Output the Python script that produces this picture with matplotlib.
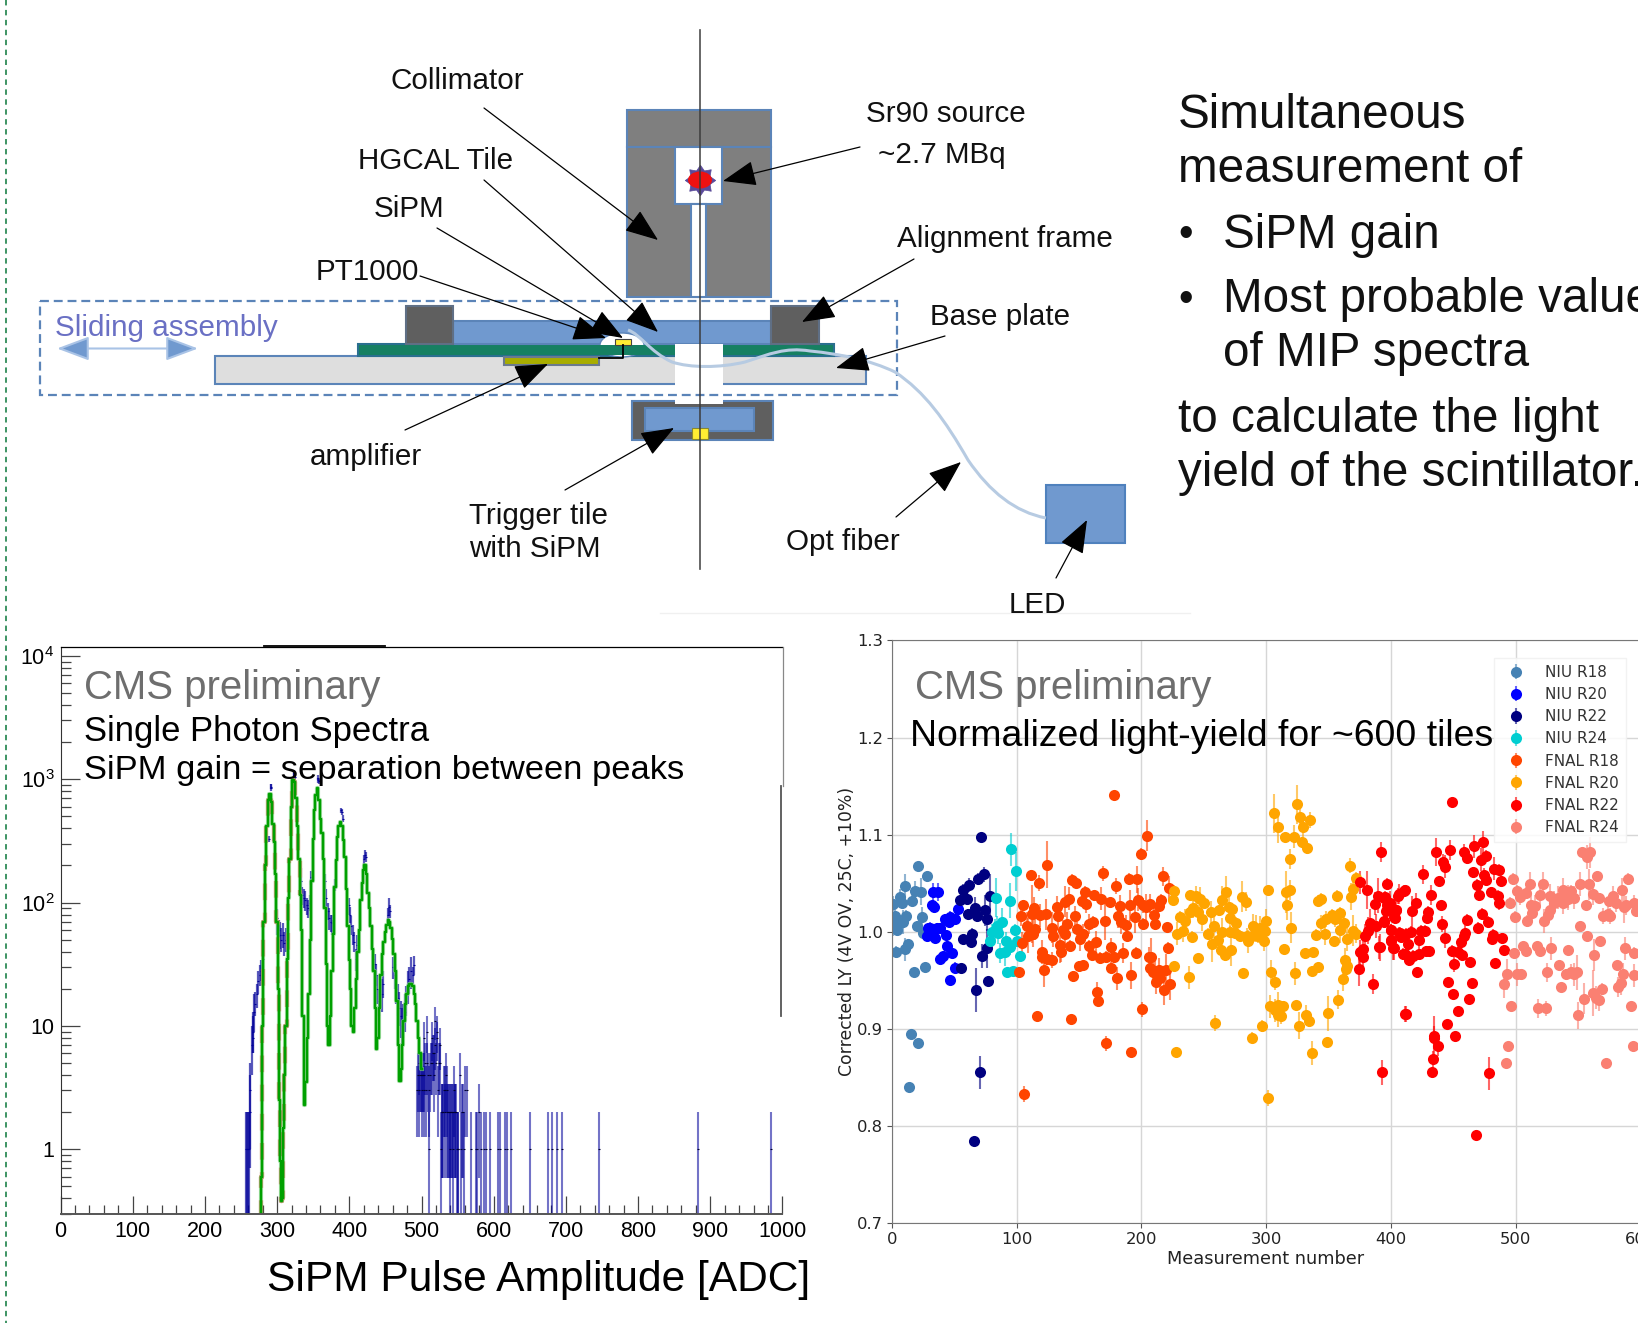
import numpy as np
import matplotlib
matplotlib.use("Agg")
import matplotlib.pyplot as plt
from matplotlib.patches import Rectangle, Ellipse, FancyArrowPatch, PathPatch
from matplotlib.path import Path
from matplotlib.ticker import FixedLocator, NullFormatter

plt.rcParams["font.family"] = ["Liberation Sans", "DejaVu Sans"]
plt.rcParams["mathtext.default"] = "regular"

# ---- left chart: single photon spectrum ----
fit_x = [277,278,279,280,282,284,286,288,290,292,294,296,298,300,302,304,305,306,307,308,310,312,314,316,318,320,322,324,
         326,328,330,332,334,336,338,340,342,344,346,348,350,352,354,356,358,360,362,364,366,368,370,372,374,376,378,380,
         382,384,386,388,390,392,394,396,398,400,402,404,406,408,410,412,414,416,418,420,422,424,426,428,430,432,434,436,
         438,440,442,444,446,448,450,452,454,456,458,460,462,464,466,468,470,472,474,476,478,480,482,484,486,488,490,492,
         494,496,498,500]
fit_y = [.28,.6,3,10,70,200,420,680,755,650,430,310,170,70,20,2.5,.8,.38,.4,1.5,4,10,35,110,225,600,980,950,
         700,420,225,115,60,12,2.3,3.5,8,18,50,150,330,560,750,845,680,480,365,225,90,32,10,7,12,28,56,135,
         220,340,420,454,420,320,235,130,65,34,20,10,9,14,24,40,60,105,145,185,202,170,119,90,65,42,28,14,
         6.5,8,14,26,38,48,58,66,72,70,62,51,38,28,16,7,3.6,4.5,7,11,15,18,21,22,22,21,18,15,
         11,8,6,4.5]

# x, value, low, high of the measured spectrum
spec_x = [257,258,259,261,262,263,265,266,267,268,270,272,274,276,278,280,288.7,291,292,323,324,325,356,357,358,388,389.5,
          391,421,422,423,453,455,456,488,489,300,302,304,306,308,310,312,333,335,337,339,341,343,345,346.5,366,368,370,372,
          374,376,378,380,399,401,403,405,407,409,411,433,435,437,439,441,445,447,461,463,465,467,469,471,473,475,477,479,
          481,483,485]
spec_y = [1,1,1,1,2,3,7,8,9,13,15,18,23,26,28,35,330,850,870,1080,1120,1050,980,1030,960,560,540,480,225,245,235,80,92,85,
          26,31,75,60,55,50,55,47,50,150,115,110,105,95,90,100,160,150,110,85,75,70,68,60,140,95,80,65,55,48,35,45,35,32,26,
          20,16,18,22,30,26,20,17,14,12,10,11,13,16,22,24,28]
spec_lo = [.3,.3,.3,.3,.7,1,4,6,6,9,12,14,18,21,23,28,310,800,830,1040,1070,1010,940,990,920,530,510,450,205,225,215,72,78,
           75,22,26,55,48,42,40,43,37,40,120,95,90,85,80,75,85,140,130,90,72,60,58,55,50,125,80,68,55,45,40,28,36,28,26,21,
           15,12,13,17,24,20,15,12,10,8,7,8,9,12,15,18,20]
spec_hi = [2,2,2,2,4,5,10,12,13,18,19,22,28,31,34,42,350,920,920,1130,1180,1100,1020,1080,1000,590,570,510,245,265,255,90,
           110,95,30,37,88,72,70,62,68,58,62,190,135,130,125,110,105,115,180,170,130,100,90,80,80,72,155,110,92,78,66,58,42,
           55,42,38,32,26,20,24,28,36,32,26,22,19,16,14,15,18,21,28,30,36]

tail_x = [494,495,496,497,498,499,500,501,502,503,503.5,504,505,506,507,508,509,510,511,512,513,514,515,516,517,518,518.5,
          519,520,521,522,523,524,525,526,527,
          528,529,530,531,532,533,534,535,536,537,538,539,540,541,542,543,544,545,546,547,548,549,550,551,
          553.4,555,556,558,559,560,563.5,568,576,577,579,583,587,590,595,606.5,609,616,618,623.6,651,675,681,688,694,746,
          883,984]
tail_n = [3,4,5,3,4,4,4,3,4,3,8,4,5,3,5,9,4,1,3,4,5,8,5,6,4,6,11,7,5,8,9,3,5,7,5,1,
          2,2,2,3,3,2,4,3,2,2,2,2,1,2,2,2,1,3,2,2,2,1,1,1,
          4,1,2,2,1,3,3,1,1,1,2,1,1,1,1,1,1,1,1,1,1,1,1,1,1,1,
          1,1]

hist_xticks = [0,100,200,300,400,500,600,700,800,900,1000]
hist_yticks = [1,10,100,1000,10000]
hist_ylabels = ["1","10","$10^2$","$10^3$","$10^4$"]

# ---- right chart: normalized light yield, (measurement, LY, error) ----
niu_r18 = [(20.6,1.068,.004),(28,1.057,.006),(10.4,1.047,.012),(18.4,1.042,.010),(23,1.041,.014),(6.4,1.036,.008),
           (7.8,1.030,.006),(16,1.032,.006),(1,1.029,.008),(2.4,1.016,.008),(11,1.016,.006),(24,1.015,.010),(9,1.010,.012),
           (6.4,1.009,.008),(20,1.006,.005),(4,1.002,.006),(.5,1.006,.01),(24.6,.999,.004),(13,.987,.004),(10.4,.982,.012),
           (3,.979,.006),(26.5,.964,.004),(17.6,.959,.003),(15,.895,.003),(21,.885,.003),(14,.84,.002)]
niu_r20 = [(33.2,1.041,.009),(36.6,1.041,.009),(31.8,1.027,.005),(33.4,1.025,.005),(53.2,1.023,.006),(50.5,1.013,.005),
           (46.5,1.015,.006),(42.5,1.013,.005),(46,1.010,.005),(38.5,1.004,.005),(30.5,1.004,.006),(32.6,1.003,.005),
           (27.8,.996,.004),(34.5,.993,.004),(43.3,.997,.004),(44.4,.985,.005),(47.9,.978,.005),(41.2,.975,.004),
           (38.5,.972,.004),(50.5,.963,.006),(46.5,.950,.004),(29,1.004,.004),(35.8,1.004,.005)]
niu_r22 = [(71.7,1.098,.003),(74,1.059,.008),(69,1.054,.006),(62,1.048,.007),(56.7,1.043,.006),(78.6,1.037,.022),
           (60,1.034,.006),(54.5,1.033,.005),(66.6,1.024,.012),(74.6,1.022,.016),(61.2,1.018,.005),(68.4,1.016,.006),
           (76.5,1.013,.012),(64.4,.998,.006),(57.2,.992,.005),(63.4,.989,.005),(76,.983,.02),(72.5,.975,.012),
           (55.3,.963,.004),(77.3,.949,.004),(67.4,.940,.023),(70.5,.855,.017),(65.5,.784,.002)]
niu_r24 = [(95.2,1.085,.017),(99.5,1.062,.02),(83.4,1.035,.02),(94.7,1.032,.018),(88,1.010,.014),(84,1.006,.01),
           (82.6,1.001,.012),(80,1.0,.008),(85.3,.999,.012),(98.7,1.002,.006),(78.6,.990,.008),(91.4,.990,.01),
           (100,.990,.006),(94.7,.984,.008),(86.6,.978,.01),(90.6,.979,.014),(102.7,.975,.005),(92,.959,.004),(97.3,.960,.004)]
fnal_r18 = [(178,1.141,.004),(204.8,1.099,.016),(200,1.080,.006),(124.6,1.069,.024),(111.5,1.058,.006),(117.6,1.050,.008),
            (144,1.053,.006),(147.6,1.050,.004),(169.5,1.060,.008),(179.7,1.047,.008),(190,1.054,.006),(196.5,1.054,.014),
            (154.8,1.041,.006),(162.3,1.038,.004),(142,1.034,.012),(139,1.031,.016),(167.4,1.034,.012),(175,1.031,.004),
            (152,1.032,.006),(155.6,1.029,.01),(105,1.027,.006),(114,1.024,.012),(132,1.025,.012),(183,1.026,.012),
            (197.6,1.033,.012),(191,1.027,.016),(201.6,1.027,.008),(204,1.025,.014),(103.7,1.016,.01),(112,1.018,.03),
            (118.7,1.017,.012),(123.5,1.018,.016),(133.4,1.016,.014),(146.8,1.016,.01),(161.5,1.010,.006),(158,1.008,.01),
            (171,1.011,.02),(181.5,1.016,.012),(195,1.015,.016),(184,1.010,.012),(187.7,1.007,.01),(201.6,1.008,.006),
            (108,1.006,.014),(115,1.003,.012),(140,1.008,.012),(128,1.004,.016),(148,1.003,.014),(137.4,1.002,.01),
            (129.4,.996,.012),(113.4,.998,.014),(109.4,.996,.018),(138.8,.998,.012),(153.5,.998,.01),(188.8,.996,.006),
            (104.5,.988,.012),(150.8,.992,.012),(163.6,.989,.012),(134.8,.986,.018),(142.8,.985,.006),(158.3,.985,.006),
            (175.4,.984,.01),(120,.979,.012),(135.3,.979,.01),(160.4,.976,.006),(185.5,.978,.01),(195.7,.978,.006),
            (120,.974,.006),(128,.971,.008),(124,.972,.006),(166.8,.973,.006),(172,.974,.006),(178,.974,.006),(206.4,.974,.01),
            (102,.958,.006),(122,.961,.018),(150.3,.965,.005),(153,.966,.004),(176,.963,.006),(145.2,.954,.006),
            (180.8,.952,.012),(191.5,.955,.014),(207,.963,.008),(164.7,.938,.01),(165.5,.929,.006),(200.5,.920,.008),
            (116.6,.913,.005),(143.3,.910,.004),(172,.885,.008),(192,.876,.003),(106,.833,.008),(217.6,1.057,.01),
            (222.4,1.045,.012),(216,1.033,.006),(214,1.026,.006),(207,1.029,.01),(210,1.017,.012),(210.6,1.008,.006),
            (220.8,1.005,.004),(221.3,.983,.006),(208,.974,.02),(209,.958,.012),(219.7,.961,.016),(214.4,.961,.012),
            (211,.960,.012),(215,.952,.012),(211.6,.948,.012),(223,.946,.016),(218,.940,.016)]
fnal_r20 = [(325,1.131,.02),(306.4,1.122,.02),(327,1.118,.012),(335.2,1.115,.008),(329.6,1.108,.01),(309.3,1.108,.017),
            (315,1.098,.004),(322,1.098,.012),(328.8,1.092,.006),(333,1.086,.006),(319.2,1.075,.01),(367,1.068,.008),
            (372.3,1.055,.006),(370,1.044,.012),(368,1.036,.014),(301.6,1.043,.004),(319,1.043,.01),(316,1.041,.022),
            (317,1.028,.016),(320,1.004,.016),(344,1.034,.006),(341.6,1.032,.006),(357,1.037,.006),(226.4,1.042,.006),
            (225.6,1.033,.004),(239,1.038,.004),(244,1.037,.01),(246.9,1.034,.012),(250,1.030,.006),(268,1.041,.016),
            (265,1.033,.014),(280.8,1.036,.016),(283.5,1.031,.01),(273,1.023,.006),(241,1.024,.01),(239,1.020,.008),
            (231,1.015,.006),(235,1.011,.012),(245,1.020,.008),(248.8,1.013,.012),(255.5,1.020,.012),(262,1.022,.006),
            (270,1.025,.012),(270.9,1.014,.01),(275.7,1.009,.006),(258.4,1.006,.012),(233.6,1.001,.012),(228.8,.998,.012),
            (240.8,.995,.006),(253.6,.998,.006),(264.3,1.0,.014),(271,1.0,.006),(275,.999,.005),(279,.996,.006),
            (284.3,.996,.008),(289.6,1.006,.012),(292.3,1.003,.014),(295,1.004,.012),(300.3,1.011,.012),(299,1.001,.01),
            (288.3,.996,.008),(293.6,.996,.008),(285.6,.990,.012),(298.4,.990,.01),(257,.987,.018),(261.6,.991,.012),
            (263.7,.981,.006),(271.7,.981,.016),(267.2,.976,.006),(245.6,.973,.004),(314.4,.982,.005),(339.7,.997,.006),
            (344.3,1.009,.008),(348.3,1.013,.008),(353,1.017,.006),(359.5,1.019,.006),(354.9,1.013,.008),(362.4,1.009,.006),
            (359.5,1.002,.014),(347.5,.998,.012),(354.4,.990,.004),(369.6,1.001,.016),(372.3,.998,.01),(365,.992,.012),
            (331.5,.978,.004),(337.6,.979,.004),(226.4,.965,.004),(238.4,.953,.012),(281.6,.957,.004),(304.3,.959,.012),
            (307,.948,.008),(323.5,.957,.012),(336.5,.960,.004),(341.6,.964,.004),(363,.971,.012),(364.8,.965,.01),
            (364.3,.962,.004),(361.6,.951,.012),(357.9,.930,.01),(349.9,.916,.018),(303.5,.923,.012),(309.6,.924,.014),
            (313.6,.923,.006),(307,.919,.012),(309.6,.914,.012),(312.3,.913,.008),(324.3,.924,.004),(332.3,.914,.01),
            (334.4,.908,.006),(326.4,.903,.014),(297,.903,.006),(259.2,.906,.008),(288.3,.891,.006),(349,.886,.004),
            (337,.875,.012),(301.6,.829,.008),(228,.876,.004)]
fnal_r22 = [(392,1.082,.01),(397.3,1.049,.006),(375.7,1.051,.012),(380.8,1.043,.02),(411,1.043,.004),(405.6,1.037,.008),
            (389.6,1.037,.018),(395,1.036,.006),(399,1.030,.012),(387,1.029,.012),(404,1.022,.01),(396,1.021,.014),
            (403,1.014,.006),(394.4,1.011,.006),(383,1.009,.014),(388.3,1.006,.012),(381.6,1.001,.014),(379,.996,.012),
            (400.3,1.002,.006),(407,.999,.006),(412,.998,.006),(400.3,.990,.008),(391,.984,.014),(402.4,.983,.012),
            (411,.977,.004),(377.6,.982,.012),(375,.979,.012),(377.6,.974,.012),(414.4,.971,.006),(374.4,.962,.018),
            (385.6,.946,.01),(411.7,.915,.008),(448.7,1.134,.003),(474,1.092,.012),(466.8,1.088,.012),(447.3,1.084,.01),
            (436,1.082,.014),(458.3,1.082,.008),(461,1.076,.006),(476.2,1.078,.006),(472.7,1.074,.012),(442,1.072,.008),
            (443.3,1.067,.012),(482.9,1.065,.012),(487,1.064,.006),(466,1.061,.006),(426,1.059,.01),(474.9,1.058,.008),
            (438.8,1.052,.004),(476.7,1.053,.006),(488.2,1.052,.006),(469,1.048,.006),(410.7,1.042,.006),(406.7,1.039,.01),
            (470.9,1.038,.006),(480.7,1.041,.005),(485.6,1.037,.006),(432.6,1.038,.01),(394.7,1.035,.006),(420,1.030,.01),
            (486.4,1.030,.008),(397.3,1.027,.006),(440,1.027,.004),(404,1.022,.006),(417.4,1.021,.016),(430,1.020,.006),
            (473.5,1.018,.006),(394.7,1.010,.004),(402.7,1.015,.006),(428.9,1.014,.006),(478.3,1.010,.006),(461.5,1.012,.006),
            (441,1.008,.008),(470.3,1.004,.006),(400.5,1.002,.006),(406.7,.999,.006),(416,1.0,.006),(424,1.001,.006),
            (427.5,1.001,.006),(459.4,.999,.008),(481.8,.997,.006),(458.3,.996,.006),(489,.993,.006),(400,.991,.006),
            (408,.995,.006),(422.7,.991,.008),(443.6,.993,.01),(456,.989,.008),(481,.992,.005),(414,.987,.005),
            (390.6,.984,.012),(402,.983,.012),(490.4,.981,.005),(448.7,.980,.006),(430.7,.980,.005),(428,.980,.005),
            (410,.977,.006),(422.7,.977,.006),(418,.975,.006),(414.7,.972,.006),(453.5,.979,.006),(457,.976,.006),
            (463.6,.969,.004),(451,.967,.008),(483.7,.968,.004),(420.9,.958,.006),(446,.948,.004),(465,.947,.004),
            (450,.936,.004),(463,.931,.004),(453.7,.918,.004),(412.3,.915,.008),(445.2,.905,.004),(434.8,.893,.02),
            (451.6,.893,.004),(435,.891,.012),(438,.882,.01),(433.6,.869,.008),(433,.855,.004),(392.9,.855,.013),
            (479,.854,.017),(468,.791,.005)]
fnal_r24 = [(553.7,1.082,.004),(559.6,1.082,.016),(557.2,1.077,.012),(498,1.054,.006),(565,1.057,.006),(590.4,1.054,.006),
            (511.8,1.049,.012),(522,1.049,.012),(551.6,1.049,.012),(559,1.049,.016),(585.8,1.043,.012),(501.6,1.042,.006),
            (508.8,1.040,.006),(537.7,1.043,.012),(544.4,1.042,.006),(547,1.035,.012),(561.8,1.039,.012),(567,1.035,.004),
            (578,1.037,.01),(520,1.038,.012),(528,1.037,.012),(533.7,1.035,.012),(542,1.036,.012),(504,1.036,.008),
            (495.7,1.030,.006),(512.3,1.028,.012),(516,1.026,.012),(531,1.030,.012),(537.7,1.030,.012),(542.5,1.034,.012),
            (575,1.032,.006),(580.5,1.030,.01),(588.5,1.027,.01),(595,1.030,.008),(556.4,1.027,.004),(587,1.025,.016),
            (528,1.022,.01),(513,1.019,.008),(573.8,1.018,.008),(569.8,1.016,.008),(575.7,1.016,.008),(525.7,1.017,.008),
            (499.7,1.015,.006),(509.6,1.011,.006),(523,1.011,.012),(596.5,1.021,.006),(551.9,1.006,.004),(557,.996,.004),
            (568,.990,.004),(506,.985,.004),(508.8,.980,.006),(517,.985,.004),(519.8,.980,.006),(528.3,.983,.012),
            (542.5,.981,.004),(588,.983,.012),(498.9,.978,.004),(563,.976,.016),(595.2,.978,.006),(535,.966,.004),
            (581,.966,.004),(493,.956,.016),(501.6,.956,.012),(504.8,.956,.006),(524.9,.958,.01),(540.4,.956,.006),
            (544.4,.959,.008),(549.7,.958,.018),(547,.956,.012),(586.4,.956,.012),(594.7,.955,.012),(491,.946,.014),
            (584.5,.947,.012),(581.8,.943,.01),(536.4,.943,.004),(569,.941,.006),(561.8,.937,.024),(564.5,.932,.012),
            (567,.930,.012),(555,.931,.016),(496,.923,.004),(518.4,.921,.01),(524.3,.921,.008),(592.5,.923,.004),
            (550,.914,.014),(494,.882,.004),(492,.865,.004),(572.4,.865,.004),(594.6,.882,.004)]

ly_series = [niu_r18, niu_r20, niu_r22, niu_r24, fnal_r18, fnal_r20, fnal_r22, fnal_r24]
ly_names = ["NIU R18", "NIU R20", "NIU R22", "NIU R24", "FNAL R18", "FNAL R20", "FNAL R22", "FNAL R24"]
ly_colors = ["steelblue", "blue", "navy", "darkturquoise", "orangered", "orange", "red", "salmon"]
ly_xticks = [0, 100, 200, 300, 400, 500, 600]
ly_yticks = [.7, .8, .9, 1.0, 1.1, 1.2, 1.3]

W, H = 1638, 1323
fig = plt.figure(figsize=(W / 100, H / 100), dpi=100)


def px_axes(left, top, right, bottom, **kw):
    return fig.add_axes([left / W, 1 - bottom / H, (right - left) / W, (bottom - top) / H], **kw)


# left chart
ax1 = px_axes(60.6, 646.6, 782.4, 1213.8)
ax1.set_yscale("log")
ax1.set_xlim(0, 1000)
ax1.set_ylim(0.3, 11900)
spec_x_a, spec_y_a = np.array(spec_x), np.array(spec_y, float)
ax1.errorbar(spec_x_a, spec_y_a, yerr=[spec_y_a - np.array(spec_lo), np.array(spec_hi) - spec_y_a], fmt="none",
             ecolor="#000099", elinewidth=1.6, alpha=0.65)
tail_x_a, tail_n_a = np.array(tail_x), np.array(tail_n, float)
tail_low = np.maximum(tail_n_a - np.sqrt(tail_n_a), 0.01)
ax1.errorbar(tail_x_a, tail_n_a, yerr=[tail_n_a - tail_low, np.sqrt(tail_n_a)], fmt="none",
             ecolor="#000099", elinewidth=1.5, alpha=0.55)
ax1.plot(tail_x_a, tail_n_a, ls="none", marker="_", ms=2, mew=0.8, color="#000033")
ax1.plot(spec_x_a, spec_y_a, ls="none", marker="_", ms=2, mew=0.8, color="#000099")
ax1.plot(fit_x[:32], fit_y[:32], color="#e8402a", lw=3, ds="steps-mid", ls=(0, (4, 3)))
ax1.plot(fit_x, fit_y, color="#7fd07f", lw=3, ds="steps-mid", alpha=0.7)
ax1.plot(fit_x, fit_y, color="#00a000", lw=1.7, ds="steps-mid")
ax1.set_xticks(hist_xticks)
ax1.xaxis.set_minor_locator(FixedLocator(np.arange(0, 1001, 20)))
ax1.set_yticks(hist_yticks, hist_ylabels)
ax1.yaxis.set_minor_locator(FixedLocator([m * d for d in (0.1, 1, 10, 100, 1000, 10000) for m in range(2, 10)]))
ax1.yaxis.set_minor_formatter(NullFormatter())
ax1.tick_params(which="major", direction="in", length=14, width=0.9, color="#444444", labelsize=15.5, pad=4.5)
ax1.tick_params(which="minor", direction="in", length=7, width=0.9, color="#444444")
ax1.tick_params(axis="x", which="major", length=13, pad=5.5)
ax1.tick_params(axis="x", which="minor", length=6.5)
ax1.spines["right"].set_visible(False)
ax1.spines["top"].set_linewidth(0.9)
ax1.spines["left"].set_color("#333333")
ax1.spines["bottom"].set_color("#555555")
ax1.spines["bottom"].set_linewidth(1.4)
ax1.set_xlabel("SiPM Pulse Amplitude [ADC]", fontsize=30.6, x=1.039, ha="right", labelpad=13)

# right chart, runs past the right edge of the slide
ax2 = px_axes(892, 640.4, 892 + 1.247 * 650, 1223)
ax2.set_xlim(0, 650)
ax2.set_ylim(0.7, 1.3)
ax2.grid(True, color="#d6d6d6", lw=1.0)
ax2.set_axisbelow(True)
for pts, name, col in zip(ly_series, ly_names, ly_colors):
    xs, ys, es = zip(*pts)
    cont = ax2.errorbar(xs, ys, yerr=es, fmt="o", color=col, ms=8, mew=0, elinewidth=1.5, label=name)
    for bar in cont[2]:
        bar.set_alpha(0.6)
ax2.set_xticks(ly_xticks)
ax2.set_yticks(ly_yticks)
ax2.tick_params(labelsize=11.8, labelfontfamily="DejaVu Sans", color="#555555", length=3.5, pad=3, labelcolor="#222222")
for side in ("left", "top", "bottom"):
    ax2.spines[side].set_color("#777777")
ax2.spines["right"].set_visible(False)
ax2.set_xlabel("Measurement number", fontsize=12.8, family="DejaVu Sans", x=(1266 - 892) / (1.247 * 650), labelpad=2,
               color="#222222")
ax2.set_ylabel("Corrected LY (4V OV, 25C, +10%)", fontsize=12.4, family="DejaVu Sans", labelpad=0.5, color="#222222")
leg = ax2.legend(loc="upper left", bbox_to_anchor=(1494 / W, 1 - 658 / H), bbox_transform=fig.transFigure,
                 prop={"family": "DejaVu Sans", "size": 11}, labelspacing=0.47, handletextpad=0.9, handlelength=2.0,
                 borderpad=0.45, borderaxespad=0, framealpha=0.85, fancybox=False, edgecolor="#f0f0f0",
                 labelcolor="#333333")

# slide overlay: drawing and annotation in pixel coordinates
ov = fig.add_axes([0, 0, 1, 1], zorder=5)
ov.set_xlim(0, W)
ov.set_ylim(H, 0)
ov.axis("off")
ov.patch.set_alpha(0)

EDGE = "#5b84b8"
BLUE = "#7099cf"
DARK = "#5f5f5f"


def box(x0, y0, x1, y1, fc, ec=EDGE, lw=1.5, z=2):
    ov.add_patch(Rectangle((x0, y0), x1 - x0, y1 - y0, fc=fc, ec=ec, lw=lw, zorder=z))


# slide border and stray line
ov.plot([5.5, 5.5], [0, H], color="#2e8b57", lw=1.3, ls=(0, (3, 2.5)))
ov.plot([660, 1190], [613, 613], color="#f0f0f0", lw=1)

# collimator
box(627, 110, 771, 147, "#7f7f7f")
box(627, 147, 771, 297, "#7f7f7f")
box(675, 147, 722, 204, "white")
box(691, 204, 706, 297, "white")
source_star = Path.unit_regular_star(8, innerCircle=0.68)
ov.scatter([700], [180], marker=source_star, s=480, fc="#5a4a9a", ec="#5a4a9a", lw=0.5, zorder=3)
ov.add_patch(Ellipse((700, 180), 24, 17, fc="#ee1111", ec="none", zorder=4))

# sliding assembly
box(215, 356, 866, 384, "#dedede")
box(358, 344, 834, 356, "#168062", ec="#2a6f8f")
box(453, 320.7, 771, 344, BLUE)
box(405.5, 306, 453, 344, DARK, ec="#5f6f85")
box(771, 306, 819, 344, DARK, ec="#5f6f85")
box(675, 344, 722.5, 403, "white", ec="none", lw=0, z=3)
ov.add_patch(Ellipse((622, 345), 44, 24, fc="white", ec=EDGE, lw=1, zorder=3))
ov.add_patch(Rectangle((590, 345), 66, 10, fc="#168062", ec="none", zorder=3))
box(504, 357, 599, 365, "#a8ad00", ec="#6b7a8f")
box(615, 339, 630.5, 344.5, "#ffee33", ec="#444444", lw=0.8, z=4)
ov.plot([623, 623, 599], [345, 358, 358], color="black", lw=1.3, zorder=4)
ov.add_patch(Rectangle((39.7, 301), 857.3, 94, fc="none", ec=EDGE, lw=1.6, ls=(0, (4, 2.2)), zorder=3.2))

# trigger tile
box(632, 401, 773, 440, DARK)
box(644.6, 408, 754, 431, BLUE)
box(675, 398, 722.5, 403.5, "white", ec="none", lw=0, z=3)
box(692, 428, 708, 439, "#ffee33", ec="#888833", lw=0.8, z=3)

# fibre and LED
fibre = Path([(628, 330), (640, 334), (650, 352), (672, 362), (690, 368), (720, 368), (745, 362), (770, 354), (785, 347),
              (810, 351), (840, 354), (870, 360), (895, 372), (925, 392), (945, 420), (968, 460), (990, 492), (1015, 512),
              (1046, 518)],
             [Path.MOVETO] + [Path.CURVE4] * 18)
ov.add_patch(PathPatch(fibre, fc="none", ec="#b7cbe2", lw=2.2, zorder=3.5))
box(1046, 485, 1125, 543, BLUE, ec="#4f81bd")

# central beam line
ov.plot([700, 700], [30, 569], color="#3a3a3a", lw=1.2, alpha=0.9, zorder=6)

# leader arrows: (from) -> (tip)
arrows = [((484, 108), (658, 240)), ((484, 180), (658, 332)), ((437, 228), (623, 338)), ((420, 276), (606, 338)),
          ((860, 147), (723, 181)), ((914, 259), (802, 322)), ((945, 336), (836, 368)), ((405, 430), (548, 364)),
          ((565, 490), (674, 428)), ((896, 517), (961, 462)), ((1056, 578), (1087, 520))]
for start, tip in arrows:
    ov.add_patch(FancyArrowPatch(start, tip, arrowstyle="-|>,head_length=2.1,head_width=0.8", mutation_scale=10, lw=0.9,
                                 fc="black", ec="black", shrinkA=0, shrinkB=0, zorder=7))

# sliding arrow
ov.add_patch(FancyArrowPatch((57, 348.5), (198, 348.5), arrowstyle="<|-|>,head_length=2.0,head_width=0.75",
                             mutation_scale=10, lw=1.5, fc=BLUE, ec="#a9c3e6", shrinkA=0, shrinkB=0, zorder=3))

labels = [("Collimator", 390, 81), ("HGCAL Tile", 358, 161), ("SiPM", 374, 209), ("PT1000", 316, 272),
          ("amplifier", 310, 457), ("Trigger tile", 469, 516), ("with SiPM", 469, 549), ("Opt fiber", 786, 542),
          ("LED", 1009, 605), ("Sr90 source", 866, 114), ("~2.7 MBq", 878, 155), ("Alignment frame", 897, 239),
          ("Base plate", 930, 317)]
for txt, x, y in labels:
    ov.text(x, y, txt, fontsize=21.3, va="center", ha="left", color="#111111", zorder=8)
ov.text(55, 328, "Sliding assembly", fontsize=21.3, va="center", color="#6a70c4", zorder=8)

# right hand text
body = [("Simultaneous", 1178, 116), ("measurement of", 1178, 169), ("SiPM gain", 1223, 235),
        ("Most probable value", 1223, 300), ("of MIP spectra", 1223, 353), ("to calculate the light", 1178, 419),
        ("yield of the scintillator.", 1178, 473)]
for txt, x, y in body:
    ov.text(x, y, txt, fontsize=34.3, va="center", color="#111111", zorder=8)
for y in (235, 300):
    ov.text(1186, y, "\u2022", fontsize=30, va="center", ha="center", color="#111111", zorder=8)

# notes over the charts
ov.text(84, 688, "CMS preliminary", fontsize=28.9, va="center", color="#6e6e6e", zorder=8)
ov.text(84, 731, "Single Photon Spectra", fontsize=24.9, va="center", color="black", zorder=8)
ov.text(84, 771, "SiPM gain = separation between peaks", fontsize=24.8, va="center", color="black", zorder=8)
ov.text(915, 688, "CMS preliminary", fontsize=28.9, va="center", color="#6e6e6e", zorder=8)
ov.text(910, 737, "Normalized light-yield for ~600 tiles", fontsize=26.9, va="center", color="black", zorder=8)

# broken right border of the spectrum frame
ov.plot([782.5, 782.5], [646.6, 786], color="#888888", lw=0.9, zorder=6)
ov.plot([780.5, 780.5], [786, 1016], color="#555555", lw=1.3, zorder=6)
ov.plot([264, 385], [646, 646], color="black", lw=1.3, zorder=6)

fig.savefig("out.png", dpi=100)
